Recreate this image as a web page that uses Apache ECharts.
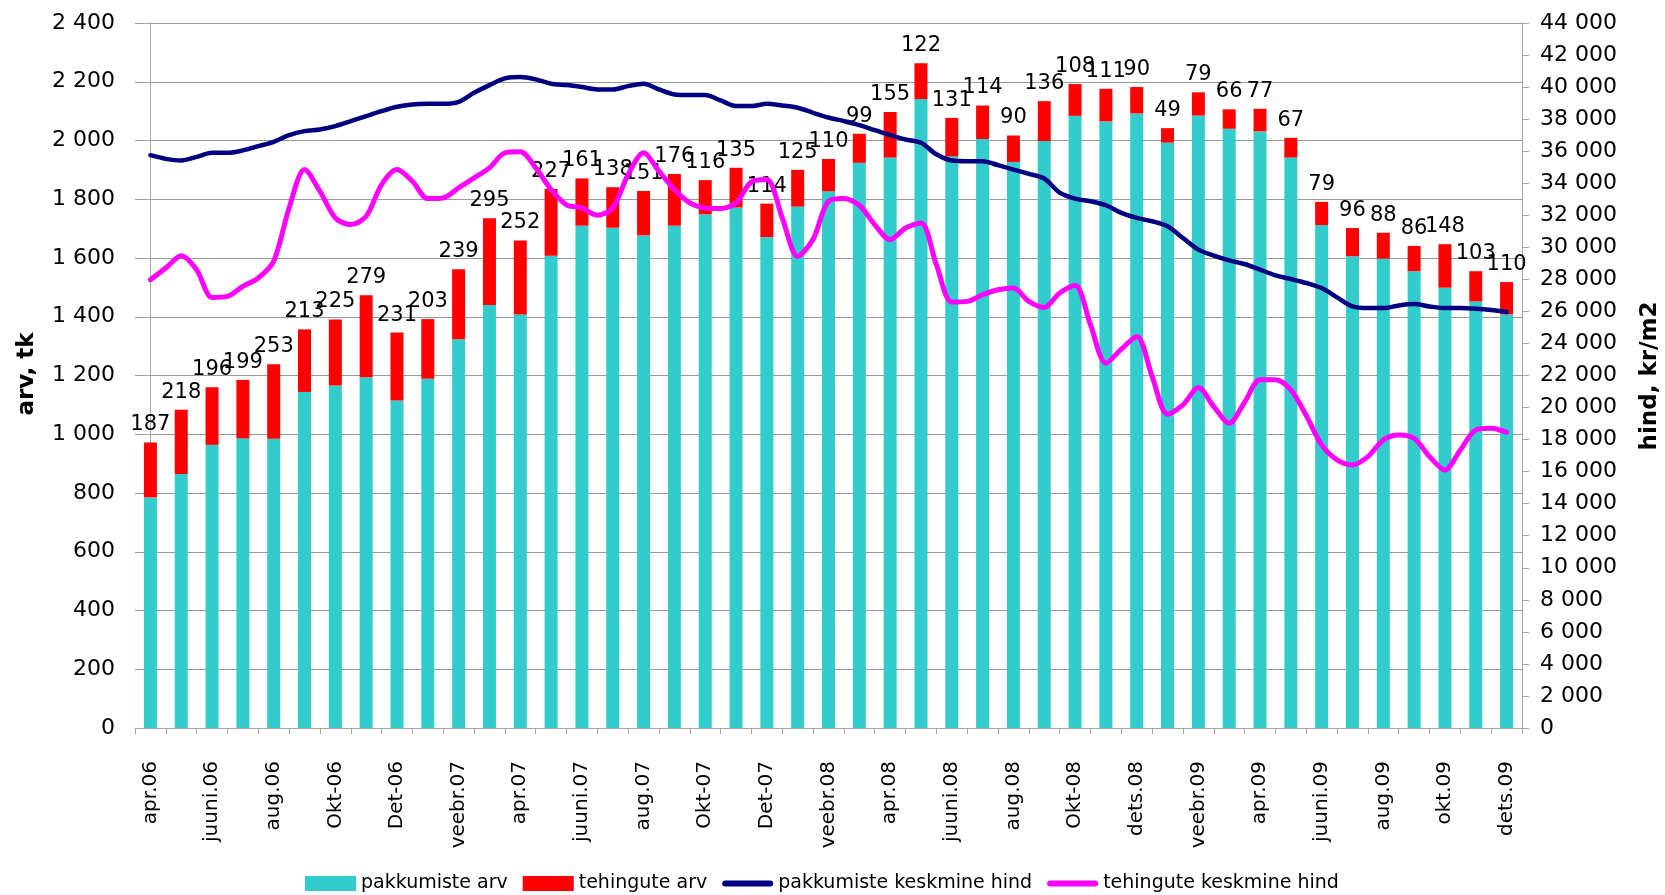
<!DOCTYPE html>
<html>
<head>
<meta charset="utf-8">
<script src="https://cdn.jsdelivr.net/npm/echarts@6/dist/echarts.min.js"></script>
<style>
html,body{margin:0;padding:0;background:#fff;}
#chart{width:1665px;height:895px;}
</style>
</head>
<body>
<div id="chart"></div>
<script>
// Categories (months Apr 2006 - Dec 2009)
const months = [
  'apr.06','mai.06','juuni.06','juuli.06','aug.06','sept.06','Okt-06','Nov-06','Det-06',
  'jaan.07','veebr.07','märts.07','apr.07','mai.07','juuni.07','juuli.07','aug.07','sept.07','Okt-07','Nov-07','Det-07',
  'jaan.08','veebr.08','märts.08','apr.08','mai.08','juuni.08','juuli.08','aug.08','sept.08','Okt-08','nov.08','dets.08',
  'jaan.09','veebr.09','märts.09','apr.09','mai.09','juuni.09','juuli.09','aug.09','sept.09','okt.09','nov.09','dets.09'
];
// pakkumiste arv (offers count)
const offers = [
  785, 865, 964, 986, 985, 1144, 1166, 1194, 1115,
  1189, 1323, 1440, 1408, 1608, 1710, 1703, 1677, 1710, 1749, 1772, 1671,
  1775, 1827, 1924, 1942, 2141, 1946, 2005, 1927, 1998, 2084, 2065, 2092,
  1993, 2085, 2040, 2031, 1942, 1712, 1606, 1598, 1555, 1499, 1452, 1408
];
// tehingute arv (deals count)
const deals = [
  187, 218, 196, 199, 253, 213, 225, 279, 231,
  203, 239, 295, 252, 227, 161, 138, 151, 176, 116, 135, 114,
  125, 110, 99, 155, 122, 131, 114, 90, 136, 108, 111, 90,
  49, 79, 66, 77, 67, 79, 96, 88, 86, 148, 103, 110
];
// pakkumiste keskmine hind, kr/m2 (half-month readings)
const offerPrice = [
  35750, 35521, 35417, 35646, 35896, 35896, 36050, 36312, 36583, 37000,
  37250, 37354, 37563, 37875, 38188, 38500, 38771, 38917, 38958, 38958,
  39083, 39646, 40125, 40541, 40625, 40479, 40208, 40125, 40000, 39854,
  39854, 40062, 40208, 39854, 39542, 39500, 39500, 39167, 38813, 38813,
  38958, 38854, 38708, 38396, 38100, 37875, 37625, 37312, 37000, 36729,
  36521, 35812, 35417, 35375, 35375, 35125, 34854, 34583, 34292, 33417,
  33042, 32875, 32625, 32146, 31833, 31625, 31312, 30583, 29854, 29479,
  29187, 28958, 28604, 28250, 28021, 27771, 27458, 26875, 26312, 26208,
  26208, 26375, 26458, 26312, 26208, 26208, 26167, 26083, 25958
];
// tehingute keskmine hind, kr/m2 (half-month readings)
const dealPrice = [
  27979, 28708, 29479, 28604, 26875, 26937, 27562, 28083, 29125, 32458,
  34854, 33500, 31833, 31417, 31937, 33917, 34854, 34125, 33042, 33083,
  33708, 34333, 34958, 35896, 35958, 34958, 33604, 32646, 32458, 32000,
  32458, 34542, 35896, 34750, 33604, 32771, 32458, 32417, 32771, 34083,
  34229, 31833, 29437, 30500, 32875, 33042, 32625, 31417, 30479, 31208,
  31521, 28917, 26583, 26625, 27042, 27354, 27458, 26625, 26250, 27146,
  27625, 25167, 22771, 23646, 24437, 21937, 19583, 20167, 21250, 20062,
  19021, 20333, 21729, 21729, 21104, 19500, 17667, 16729, 16417, 16937,
  17979, 18292, 18083, 16937, 16104, 17354, 18604, 18708, 18458
];
const seriesNames = ['pakkumiste arv','tehingute arv','pakkumiste keskmine hind','tehingute keskmine hind'];
const leftTitle = 'arv, tk';
const rightTitle = 'hind, kr/m2';

const FONT = 'DejaVu Sans';
const fmt = v => String(v).replace(/\B(?=(\d{3})+(?!\d))/g, ' ');
const toPairs = arr => arr.map((v, k) => [k / 2, v]);

const lineIcon = 'path://M0,0 M0,15 M3,4.5 L48,4.5 A3,3 0 0 1 48,10.5 L3,10.5 A3,3 0 0 1 3,4.5 Z';

const chart = echarts.init(document.getElementById('chart'));
chart.setOption({
  animation: false,
  backgroundColor: '#ffffff',
  textStyle: { fontFamily: FONT, color: '#000' },
  grid: { left: 135, right: 143, top: 23, bottom: 167, containLabel: false },
  legend: {
    left: 300, top: 869,
    itemWidth: 51, itemHeight: 15, itemGap: 15,
    textStyle: { fontFamily: FONT, fontSize: 19, color: '#000' },
    data: [
      { name: seriesNames[0], icon: 'rect' },
      { name: seriesNames[1], icon: 'rect' },
      { name: seriesNames[2], icon: lineIcon },
      { name: seriesNames[3], icon: lineIcon }
    ]
  },
  xAxis: [
    {
      type: 'category', data: months, boundaryGap: true,
      axisLine: { show: true, lineStyle: { color: '#a6a6a6', width: 1 } },
      axisTick: { show: true, interval: 0, length: 6, lineStyle: { color: '#a6a6a6' } },
      axisLabel: { interval: 1, rotate: 90, margin: 33, fontFamily: FONT, fontSize: 20, color: '#000' },
      splitLine: { show: false }
    },
    { type: 'value', min: -0.5, max: 44.5, show: false }
  ],
  yAxis: [
    {
      type: 'value', min: 0, max: 2400, interval: 200, position: 'left',
      axisLine: { show: true, lineStyle: { color: '#a6a6a6', width: 1 } },
      axisTick: { show: true, length: 7, lineStyle: { color: '#a6a6a6' } },
      axisLabel: { formatter: fmt, margin: 20, fontFamily: FONT, fontSize: 22, color: '#000' },
      splitLine: { show: true, lineStyle: { color: '#999999', width: 1 } }
    },
    {
      type: 'value', min: 0, max: 44000, interval: 2000, position: 'right',
      axisLine: { show: true, lineStyle: { color: '#a6a6a6', width: 1 } },
      axisTick: { show: true, length: 7, lineStyle: { color: '#a6a6a6' } },
      axisLabel: { formatter: fmt, margin: 18, fontFamily: FONT, fontSize: 22, color: '#000' },
      splitLine: { show: false }
    }
  ],
  graphic: [
    { type: 'text', x: 27, y: 374, rotation: Math.PI / 2,
      style: { text: leftTitle, font: 'bold 23px "DejaVu Sans"', fill: '#000', align: 'center', verticalAlign: 'middle' } },
    { type: 'text', x: 1650, y: 376, rotation: Math.PI / 2,
      style: { text: rightTitle, font: 'bold 23px "DejaVu Sans"', fill: '#000', align: 'center', verticalAlign: 'middle' } }
  ],
  series: [
    {
      name: seriesNames[0], type: 'bar', stack: 'n', data: offers, barWidth: 13,
      itemStyle: { color: '#33CCCC' }
    },
    {
      name: seriesNames[1], type: 'bar', stack: 'n', data: deals, barWidth: 13,
      itemStyle: { color: '#FF0000' },
      label: { show: true, position: 'top', distance: 7, fontFamily: FONT, fontSize: 21, color: '#000' }
    },
    {
      name: seriesNames[2], type: 'line', xAxisIndex: 1, yAxisIndex: 1,
      data: toPairs(offerPrice), smooth: 0.3, showSymbol: false, symbol: 'none',
      lineStyle: { color: '#000080', width: 4.5, cap: 'round', join: 'round' },
      itemStyle: { color: '#000080' }, z: 5
    },
    {
      name: seriesNames[3], type: 'line', xAxisIndex: 1, yAxisIndex: 1,
      data: toPairs(dealPrice), smooth: 0.3, showSymbol: false, symbol: 'none',
      lineStyle: { color: '#FF00FF', width: 5, cap: 'round', join: 'round' },
      itemStyle: { color: '#FF00FF' }, z: 5
    }
  ]
});
</script>
</body>
</html>
